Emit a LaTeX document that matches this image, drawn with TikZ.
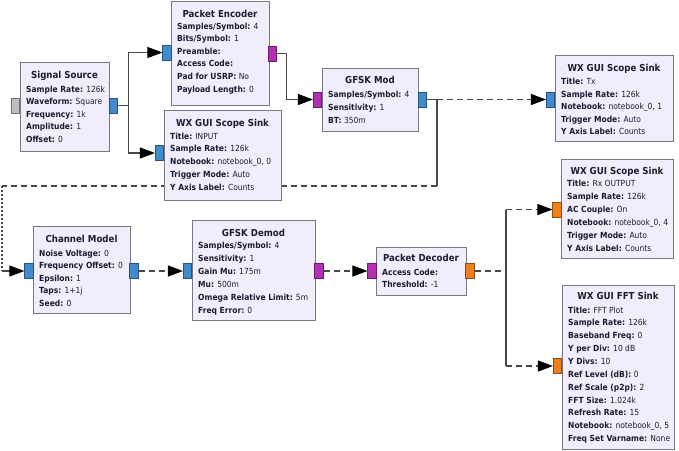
\documentclass[tikz,border=0pt]{standalone}
\usepackage{fontspec}
\setmainfont{DejaVu Sans Condensed}
\usetikzlibrary{arrows.meta}

\definecolor{blkfill}{RGB}{241,237,252}
\definecolor{blkline}{RGB}{120,120,128}
\definecolor{txt}{RGB}{28,28,48}
\definecolor{wirec}{RGB}{72,72,72}
\definecolor{pblue}{RGB}{66,138,206}
\definecolor{ppurple}{RGB}{178,48,178}
\definecolor{porange}{RGB}{240,128,30}
\definecolor{pgray}{RGB}{190,190,190}

\pgfdeclarelayer{wires}
\pgfsetlayers{wires,main}

% parameter lines of a block: x, first baseline, step, name prefix, list
\newcommand\paramlines[5]{%
  \foreach \pline [count=\pi from 0] in {#5}
    \node[lbl] (#4-\pi) at (#1,{#2+#3*\pi}) {\pline};}

\begin{document}
\begin{tikzpicture}[x=1pt,y=-1pt,
  blk/.style={draw=blkline, fill=blkfill, line width=0.9pt, rectangle, inner sep=0, anchor=north west},
  port/.style={draw=#1!60!black, fill=#1, line width=0.6pt, rectangle, inner sep=0,
               minimum width=8.5pt, minimum height=15pt},
  ttl/.style={anchor=base, font=\fontsize{9.6}{11}\selectfont\bfseries, text=txt, inner sep=0},
  lbl/.style={anchor=base west, font=\fontsize{8.4}{10}\selectfont, text=txt, inner sep=0},
  wire/.style={draw=wirec, line width=1.05pt},
  tip/.style={-{Triangle[length=15pt,width=11pt,color=black]}},
  dashwire/.style={wire, dash pattern=on 6pt off 4pt},
  dotwire/.style={wire, dash pattern=on 2pt off 2pt}]

\useasboundingbox (0,0) rectangle (679,450);

% ---------- blocks ----------
\node[blk, minimum width=89pt,  minimum height=89pt]  (src)   at (20,62)   {};
\node[blk, minimum width=98pt,  minimum height=104pt] (enc)   at (171,1)   {};
\node[blk, minimum width=117pt, minimum height=90pt]  (scin)  at (164,110) {};
\node[blk, minimum width=96pt,  minimum height=63pt]  (mod)   at (322,68)  {};
\node[blk, minimum width=118pt, minimum height=86pt]  (sctx)  at (555,55)  {};
\node[blk, minimum width=97pt,  minimum height=87pt]  (chan)  at (33,226)  {};
\node[blk, minimum width=123pt, minimum height=100pt] (demod) at (192,220) {};
\node[blk, minimum width=90pt,  minimum height=48pt]  (dec)   at (376,247) {};
\node[blk, minimum width=112pt, minimum height=99pt]  (scrx)  at (561,159) {};
\node[blk, minimum width=112pt, minimum height=164pt] (fft)   at (562,285) {};

% ---------- titles ----------
\node[ttl] (src-t)   at (64.5,78.5)  {Signal Source};
\node[ttl] (enc-t)   at (220,17.5)   {Packet Encoder};
\node[ttl] (scin-t)  at (222.5,126.5){WX GUI Scope Sink};
\node[ttl] (mod-t)   at (370,83.5)   {GFSK Mod};
\node[ttl] (sctx-t)  at (614,71.5)   {WX GUI Scope Sink};
\node[ttl] (chan-t)  at (81.5,242.5) {Channel Model};
\node[ttl] (demod-t) at (253.5,236.5){GFSK Demod};
\node[ttl] (dec-t)   at (421,261.5)  {Packet Decoder};
\node[ttl] (scrx-t)  at (617,174.5)  {WX GUI Scope Sink};
\node[ttl] (fft-t)   at (618,299.5)  {WX GUI FFT Sink};

% ---------- parameters ----------
\paramlines{26}{92}{12.5}{src}{
  {\textbf{Sample Rate:} 126k},
  {\textbf{Waveform:} Square},
  {\textbf{Frequency:} 1k},
  {\textbf{Amplitude:} 1},
  {\textbf{Offset:} 0}}
\paramlines{177}{29}{12.6}{enc}{
  {\textbf{Samples/Symbol:} 4},
  {\textbf{Bits/Symbol:} 1},
  {\textbf{Preamble:}},
  {\textbf{Access Code:}},
  {\textbf{Pad for USRP:} No},
  {\textbf{Payload Length:} 0}}
\paramlines{170}{139}{12.75}{scin}{
  {\textbf{Title:} INPUT},
  {\textbf{Sample Rate:} 126k},
  {\textbf{Notebook:} notebook\_0, 0},
  {\textbf{Trigger Mode:} Auto},
  {\textbf{Y Axis Label:} Counts}}
\paramlines{328}{97}{13}{mod}{
  {\textbf{Samples/Symbol:} 4},
  {\textbf{Sensitivity:} 1},
  {\textbf{BT:} 350m}}
\paramlines{561}{84.5}{12.5}{sctx}{
  {\textbf{Title:} Tx},
  {\textbf{Sample Rate:} 126k},
  {\textbf{Notebook:} notebook\_0, 1},
  {\textbf{Trigger Mode:} Auto},
  {\textbf{Y Axis Label:} Counts}}
\paramlines{39}{256}{12.5}{chan}{
  {\textbf{Noise Voltage:} 0},
  {\textbf{Frequency Offset:} 0},
  {\textbf{Epsilon:} 1},
  {\textbf{Taps:} 1+1j},
  {\textbf{Seed:} 0}}
\paramlines{198}{248}{13}{demod}{
  {\textbf{Samples/Symbol:} 4},
  {\textbf{Sensitivity:} 1},
  {\textbf{Gain Mu:} 175m},
  {\textbf{Mu:} 500m},
  {\textbf{Omega Relative Limit:} 5m},
  {\textbf{Freq Error:} 0}}
\paramlines{382}{275}{12.5}{dec}{
  {\textbf{Access Code:}},
  {\textbf{Threshold:} -1}}
\paramlines{567}{186.3}{13}{scrx}{
  {\textbf{Title:} Rx OUTPUT},
  {\textbf{Sample Rate:} 126k},
  {\textbf{AC Couple:} On},
  {\textbf{Notebook:} notebook\_0, 4},
  {\textbf{Trigger Mode:} Auto},
  {\textbf{Y Axis Label:} Counts}}
\paramlines{568}{313}{12.87}{fft}{
  {\textbf{Title:} FFT Plot},
  {\textbf{Sample Rate:} 126k},
  {\textbf{Baseband Freq:} 0},
  {\textbf{Y per Div:} 10 dB},
  {\textbf{Y Divs:} 10},
  {\textbf{Ref Level (dB):} 0},
  {\textbf{Ref Scale (p2p):} 2},
  {\textbf{FFT Size:} 1.024k},
  {\textbf{Refresh Rate:} 15},
  {\textbf{Notebook:} notebook\_0, 5},
  {\textbf{Freq Set Varname:} None}}

% ---------- ports ----------
\node[port=pgray]   (src-in)    at (15.5,106)  {};
\node[port=pblue]   (src-out)   at (113.5,105.5) {};
\node[port=pblue]   (enc-in)    at (167,52.5)  {};
\node[port=ppurple] (enc-out)   at (272.5,53.5) {};
\node[port=pblue]   (scin-in)   at (159.5,153) {};
\node[port=ppurple] (mod-in)    at (317.5,99.5) {};
\node[port=pblue]   (mod-out)   at (422.5,99.5) {};
\node[port=pblue]   (sctx-in)   at (550.5,99.5) {};
\node[port=pblue]   (chan-in)   at (29,271)    {};
\node[port=pblue]   (chan-out)  at (134,271)   {};
\node[port=pblue]   (demod-in)  at (187.5,271) {};
\node[port=ppurple] (demod-out) at (319,271)   {};
\node[port=ppurple] (dec-in)    at (372,271)   {};
\node[port=porange] (dec-out)   at (470,271)   {};
\node[port=porange] (scrx-in)   at (557,209.5) {};
\node[port=porange] (fft-in)    at (557.5,366) {};

% ---------- connections (kept underneath the blocks) ----------
\begin{pgfonlayer}{wires}
\draw[wire, tip] (src-out.east) -- ++(10,0) |- (enc-in.west);
\draw[wire, tip] (src-out.east) -- ++(10,0) |- (scin-in.west);
\draw[wire, tip] (enc-out.east) -- ++(9,0) |- (mod-in.west);
\draw[dashwire, tip] (mod-out.east) -- (sctx-in.west);

% feedback of the modulated signal into the channel model
\coordinate (fb1) at (437,186);
\coordinate (fb2) at (2,186);
\coordinate (fb3) at (2,271);
\draw[wire] (mod-out.east) -| (fb1);
\draw[dashwire] (fb1) -- (fb2);
\draw[dotwire] (fb2) -- (fb3);
\draw[wire, tip] (fb3) -- (chan-in.west);

\draw[dashwire, tip] (chan-out.east) -- (demod-in.west);
\draw[dashwire, tip] (demod-out.east) -- (dec-in.west);

% decoder output split to the two sinks
\coordinate (sp1) at (506,209.5);
\coordinate (sp2) at (506,366);
\draw[dashwire] (dec-out.east) -- (dec-out.east -| sp1);
\draw[wire] (sp1) -- (sp2);
\draw[dashwire, tip] (sp1) -- (scrx-in.west);
\draw[dashwire, tip] (sp2) -- (fft-in.west);
\end{pgfonlayer}
\end{tikzpicture}
\end{document}
